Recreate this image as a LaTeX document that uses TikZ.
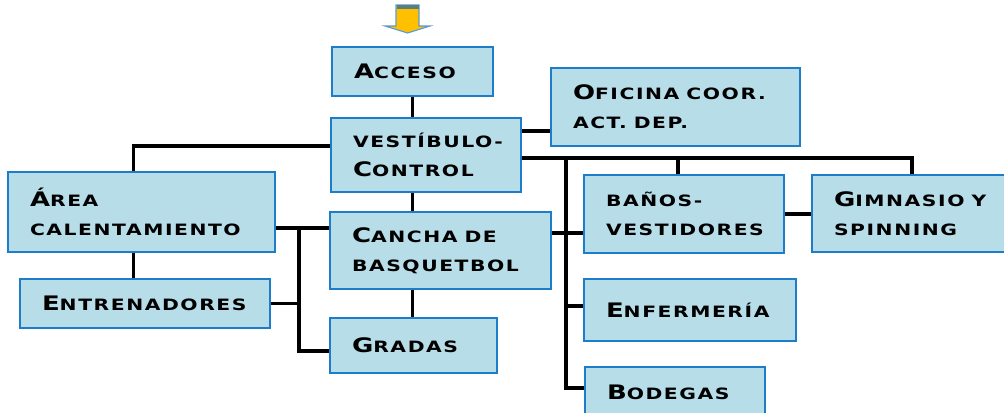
\documentclass[tikz,border=0pt]{standalone}
\usepackage{fontspec}
\usepackage{tikz}
\usetikzlibrary{
	calc,
	backgrounds
}
\newfontfamily\boxfont{DejaVu Sans}[FakeStretch=1.3,LetterSpace=10]
\definecolor{BoxFill}{RGB}{183,221,232}
\definecolor{BoxLine}{RGB}{30,125,200}
\definecolor{ArrowFill}{RGB}{255,192,0}
\definecolor{ArrowLine}{RGB}{91,155,213}
\newcommand{\initl}[1]{{\fontsize{14.2}{20.6}\selectfont #1}}
\newcommand{\gap}{\kern0.45em}

\begin{document}
\begin{tikzpicture}[x=0.025cm, y=-0.025cm,
		blk/.style 2 args={draw=BoxLine, fill=BoxFill, line width=1.3pt,
			minimum width=#1*0.025cm, minimum height=#2*0.025cm,
			text width=#1*0.025cm-1.1cm, inner xsep=0.55cm, inner ysep=0pt,
			align=left, font=\boxfont\bfseries\fontsize{11.1}{20.6}\selectfont,
			execute at begin node={\exhyphenpenalty=10000\relax}},
		link/.style={line width=2.6pt, black}]
		\clip (0,0) rectangle (1004,413);
		
		% flecha de entrada
		\draw[fill=ArrowFill, draw=ArrowLine, line width=0.8pt] (396,5) -- (419,5) -- (419,26) -- (430,26) -- (407.5,33) -- (385,26) -- (396,26) -- cycle;
		\fill[gray!70!teal] (396.5,5.5) rectangle (418.5,9);
		
		% espacios
		\node[blk={161}{49}] (acceso) at (412.5,71.5) {\initl{A}CCESO};
		\node[blk={249}{78}] (ofic) at (675.5,107) {\initl{O}FICINA\gap COOR.\\ACT.\gap DEP.};
		\node[blk={190}{74}] (vest) at (426,155) {VESTÍBULO-\\\initl{C}ONTROL};
		\node[blk={267}{80}] (area) at (141.5,212) {\initl{Á}REA\\CALENTAMIENTO};
		\node[blk={250}{49}] (entr) at (145,303.5) {\initl{E}NTRENADORES};
		\node[blk={221}{77}] (cancha) at (440.5,250.5) {\initl{C}ANCHA\gap DE\\BASQUETBOL};
		\node[blk={167}{55}] (gradas) at (413.5,345.5) {\initl{G}RADAS};
		\node[blk={200}{78}] (banos) at (684,214) {BAÑOS-\\VESTIDORES};
		\node[blk={204}{77}] (gimn) at (914,213.5) {\initl{G}IMNASIO\gap Y\\SPINNING};
		\node[blk={212}{62}] (enferm) at (690,310) {\initl{E}NFERMERÍA};
		\node[blk={180}{50}] (bodegas) at (675,392) {\initl{B}ODEGAS};
		
		% conexiones
		\coordinate (vr) at ([yshift=-.075cm]vest.east);
		\coordinate (rt) at ([xshift=1.1cm]vr);
		\coordinate (cr) at ([yshift=.44cm]cancha.east);
		\coordinate (al) at ([yshift=-.4cm]area.east);
		\coordinate (lt) at ([xshift=.575cm]al);
		\begin{scope}[on background layer]
		\begin{scope}[link]
			\draw (acceso.south) -- (gradas.north -| acceso.south);
			\draw ([yshift=.6cm]vest.east) -- ([yshift=.6cm]vest.east -| ofic.west);
			\draw ([yshift=.225cm]vest.west) -| ([xshift=-.2cm]area.north |- entr.north);
			\draw (vr) -| ([xshift=-.05cm]gimn.north);
			\draw ([xshift=-.15cm]banos.north) -- ([xshift=-.15cm]banos.north |- vr);
			\draw (rt) |- ([yshift=.1cm]bodegas.west);
			\draw (cr) -- (cr -| banos.west);
			\draw ([yshift=.1cm]enferm.west) -- ++(-19,0);
			\draw (banos.east) -- (banos.east -| gimn.west);
			\draw (al) -- (al -| cancha.west);
			\draw (lt) |- ([yshift=-.14cm]gradas.west);
			\draw (entr.east) -- (entr.east -| lt);
		\end{scope}
		\end{scope}
	\end{tikzpicture}
\end{document}
